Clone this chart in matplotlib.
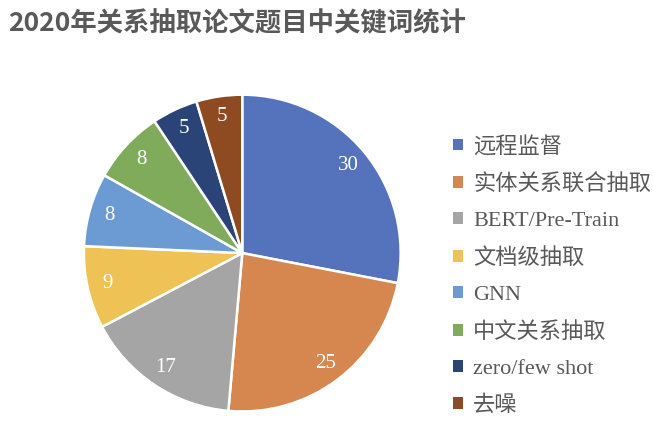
import numpy as np
import matplotlib.pyplot as plt
from matplotlib.patches import Patch

# 数据
labels = ['远程监督', '实体关系联合抽取', 'BERT/Pre-Train', '文档级抽取',
          'GNN', '中文关系抽取', 'zero/few shot', '去噪']
counts = [30, 25, 17, 9, 8, 8, 5, 5]
colors = ['#5572BC', '#D5874F', '#A5A5A5', '#EEC255',
          '#6C9BD3', '#7FAB5B', '#2B4477', '#8E4B22']

mixed = ['Liberation Serif', 'Noto Sans CJK SC']

fig = plt.figure(figsize=(6.53, 4.25), dpi=100)
ax = fig.add_axes([0.126, 0.028, 0.49, 0.753])

wedges, texts = ax.pie(counts, colors=colors, startangle=90, counterclock=False,
                       wedgeprops=dict(edgecolor='white', linewidth=1.8))
ax.set_xlim(-1.01, 1.01)
ax.set_ylim(-1.01, 1.01)
ax.set_aspect('equal')

# 数值标签
for w, v in zip(wedges, counts):
    ang = np.deg2rad((w.theta1 + w.theta2) / 2)
    ax.text(0.87 * np.cos(ang), 0.87 * np.sin(ang), str(v), color='white',
            ha='center', va='center', fontsize=15, family=mixed)

fig.text(0.012, 0.945, '2020年关系抽取论文题目中关键词统计', fontsize=19,
         fontweight='bold', color='#595959', family=['Noto Sans CJK SC'],
         va='center')

handles = [Patch(facecolor=c, edgecolor='none') for c in colors]
leg = fig.legend(handles, labels, loc='upper left', bbox_to_anchor=(0.677, 0.705),
                 frameon=False, handlelength=0.45, handleheight=0.45,
                 handletextpad=0.45, labelspacing=0.76, borderpad=0,
                 prop={'family': mixed, 'size': 16})
for t in leg.get_texts():
    t.set_color('#595959')

plt.savefig('out.png', dpi=100)
